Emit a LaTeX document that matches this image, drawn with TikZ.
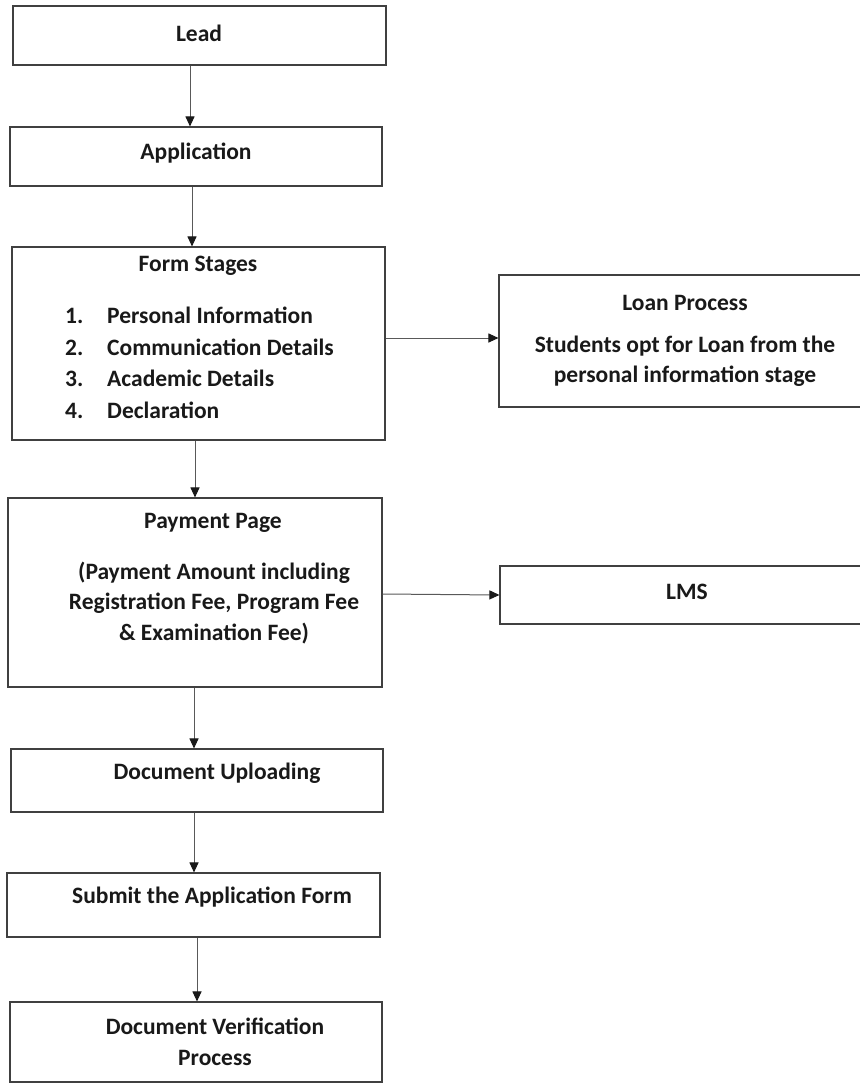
\documentclass[tikz,border=0pt]{standalone}
\usepackage{fontspec}
\setmainfont{Carlito}
\usetikzlibrary{arrows.meta}
\begin{document}
\begin{tikzpicture}[x=1pt,y=-1pt,
  box/.style={draw=black!75, line width=1.1pt, rectangle, inner sep=0pt},
  txt/.style={font=\fontsize{23.5}{30.5}\selectfont\bfseries, text=black!90, align=center, inner sep=0pt},
  arr/.style={draw=black!65, line width=1pt, -{Triangle[length=10pt,width=9pt,color=black!90,fill=black!90]}}]
\useasboundingbox (0,0) rectangle (859,1083);
\fill[white] (0,0) rectangle (859,1083);
% boxes
\node[box, minimum width=373pt, minimum height=59pt] (lead) at (199.5,35.5) {};
\node[box, minimum width=372pt, minimum height=59pt] (app) at (196,156.5) {};
\node[box, minimum width=373pt, minimum height=193pt] (form) at (198.5,343.5) {};
\node[box, minimum width=362pt, minimum height=132pt] (loan) at (680,341) {};
\node[box, minimum width=374pt, minimum height=189pt] (pay) at (195,592.5) {};
\node[box, minimum width=361pt, minimum height=58pt] (lms) at (680.5,595) {};
\node[box, minimum width=372pt, minimum height=63pt] (up) at (197,780.5) {};
\node[box, minimum width=373pt, minimum height=64pt] (sub) at (193.5,905) {};
\node[box, minimum width=372pt, minimum height=80pt] (ver) at (196,1042) {};
% texts
\node[txt] (leadt) at (199,33) {Lead};
\node[txt] (appt) at (196,153) {Application};
\node[txt] (formt) at (198,266) {Form Stages};
\node[txt, anchor=north west, align=left, font=\fontsize{23.5}{31.5}\selectfont\bfseries] (forml) at (65,307)
  {\makebox[42pt][l]{1.}Personal Information\\
   \makebox[42pt][l]{2.}Communication Details\\
   \makebox[42pt][l]{3.}Academic Details\\
   \makebox[42pt][l]{4.}Declaration};
\node[txt] (loant) at (685,303) {Loan Process};
\node[txt] (loanb) at (685,361) {Students opt for Loan from the\\personal information stage};
\node[txt] (payt) at (213,523) {Payment Page};
\node[txt] (payb) at (214,603) {(Payment Amount including\\Registration Fee, Program Fee\\\& Examination Fee)};
\node[txt] (lmst) at (687,592) {LMS};
\node[txt] (upt) at (217,773) {Document Uploading};
\node[txt] (subt) at (212,897) {Submit the Application Form};
\node[txt] (vert) at (215,1042) {Document Verification\\Process};
% connectors
\draw[arr] ([xshift=-9.5pt]lead.south) -- ([xshift=-6pt]app.north);
\draw[arr] ([xshift=-4pt]app.south) -- ([xshift=-6.5pt]form.north);
\draw[arr] ([yshift=5.5pt]form.east) -- ([yshift=3pt]loan.west);
\draw[arr] ([xshift=-3.5pt]form.south) -- ([xshift=0pt]pay.north);
\draw[arr] ([yshift=-1.5pt]pay.east) -- (lms.west);
\draw[arr] ([xshift=-1pt]pay.south) -- ([xshift=-3pt]up.north);
\draw[arr] ([xshift=-3pt]up.south) -- ([xshift=0.5pt]sub.north);
\draw[arr] ([xshift=3.5pt]sub.south) -- ([xshift=1pt]ver.north);
\end{tikzpicture}
\end{document}
